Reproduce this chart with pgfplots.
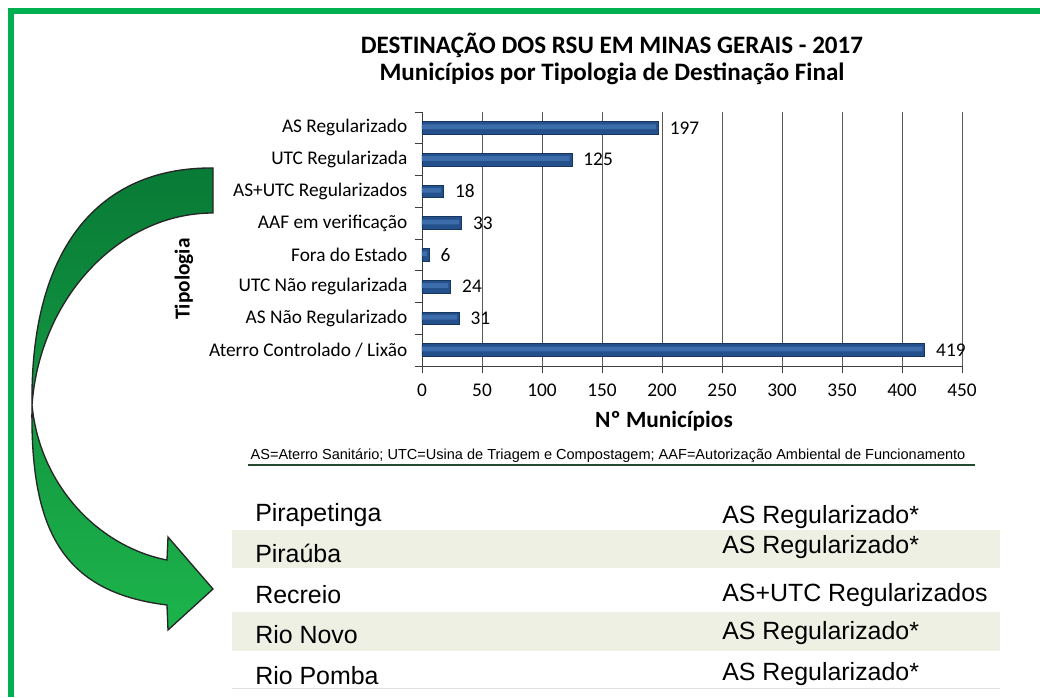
\documentclass[border=0pt]{standalone}
\usepackage{pgfplots}
\pgfplotsset{compat=1.18}
\usepackage{fontspec}
\setmainfont{Carlito}
\newfontfamily\arial{Liberation Sans}
\usepackage{graphicx}

\definecolor{framegreen}{HTML}{00B050}
\definecolor{barfill}{HTML}{24508C}
\definecolor{barlight}{HTML}{3C6DAA}
\definecolor{bardark}{HTML}{16355F}
\definecolor{arrowdark}{HTML}{087A36}
\definecolor{arrowlight}{HTML}{1DB44B}
\definecolor{band}{HTML}{EDF0E3}
\definecolor{noteline}{HTML}{234A30}

\begin{document}
\begin{tikzpicture}[x=0.75pt,y=0.75pt]
\useasboundingbox (0,0) rectangle (1040,697);
\fill[white] (0,0) rectangle (1040,697);

% green frame (cut off at right and bottom)
\fill[framegreen] (8,0) rectangle (14,689);
\fill[framegreen] (8,683) rectangle (1040,689);

% table bands
\fill[band] (232,129) rectangle (1000,167);
\fill[band] (232,46) rectangle (1000,85);
\draw[black!12, line width=0.6pt] (232,9) -- (1000,9);

% curved arrow
\draw[black!85, line width=1pt, top color=arrowdark, bottom color=arrowlight]
  (213,529) .. controls (100,530) and (30,450) .. (32,292)
  .. controls (30,170) and (60,105) .. (167,92)
  -- (168,67) -- (213,108) -- (168,160) -- (167,137)
  .. controls (100,150) and (40,210) .. (32,292)
  .. controls (40,400) and (120,484) .. (213,484) -- cycle;

\coordinate (axpos) at (422,331);
\begin{axis}[
  at={(axpos)}, anchor=south west,
  scale only axis, width=405pt, height=190.5pt,
  xmin=0, xmax=450, ymin=-0.5, ymax=7.5,
  axis x line*=bottom, axis y line*=left,
  axis line style={draw=black!75, line width=0.6pt},
  xtick={0,50,...,450},
  xmajorgrids, grid style={black!65, line width=0.5pt},
  ytick={-0.5,0.5,...,7.5},
  y tick label as interval,
  yticklabels={Aterro Controlado / Lixão, AS Não Regularizado, UTC Não regularizada, Fora do Estado, AAF em verificação, AS+UTC Regularizados, UTC Regularizada, AS Regularizado},
  tick align=outside,
  major tick length=5.5pt,
  tick style={black!75, line width=0.6pt},
  xticklabel style={font=\fontsize{14.5}{16}\selectfont, yshift=-4.5pt},
  yticklabel style={font=\fontsize{14.5}{16}\selectfont, xshift=-2pt},
  /pgf/number format/assume math mode=true,
  clip=false,
]
\addplot[xbar, bar width=9.5pt, bar shift=0pt, fill=barfill, draw=bardark, line width=0.5pt,
  point meta=x, nodes near coords,
  nodes near coords style={anchor=west, xshift=5pt, font=\fontsize{14.5}{16}\selectfont, text=black}]
  coordinates {(419,0) (31,1) (24,2) (6,3) (33,4) (18,5) (125,6) (197,7)};
\addplot[xbar, bar width=3.5pt, bar shift=0.8pt, fill=barlight, draw=none]
  coordinates {(417,0) (29,1) (22,2) (4,3) (31,4) (16,5) (123,6) (195,7)};
\end{axis}

% titles and labels
\node[font=\bfseries\fontsize{18.8}{22}\selectfont] at (612,652) {DESTINAÇÃO DOS RSU EM MINAS GERAIS - 2017};
\node[font=\bfseries\fontsize{18.8}{22}\selectfont] at (612,623) {Municípios por Tipologia de Destinação Final};
\node[font=\bfseries\fontsize{17.5}{20}\selectfont] at (664,276) {Nº Municípios};
\node[font=\bfseries\fontsize{16}{18}\selectfont, rotate=90] at (184,418) {Tipologia};

% footnote
\node at (608,241) {\resizebox{536pt}{!}{\arial AS=Aterro Sanitário; UTC=Usina de Triagem e Compostagem; AAF=Autorização Ambiental de Funcionamento}};
\draw[noteline, line width=1.2pt] (248,232) -- (975,232);

% table
\begin{scope}[every node/.style={font=\arial\fontsize{18.7}{22}\selectfont, anchor=west, inner sep=0pt}]
\node at (255,182) {Pirapetinga};
\node at (255,144) {Piraúba};
\node at (255,102) {Recreio};
\node at (255,62) {Rio Novo};
\node at (255,21) {Rio Pomba};
\node at (722,180) {AS Regularizado*};
\node at (722,150) {AS Regularizado*};
\node at (722,102) {AS+UTC Regularizados};
\node at (722,64) {AS Regularizado*};
\node at (722,23) {AS Regularizado*};
\end{scope}
\end{tikzpicture}
\end{document}
